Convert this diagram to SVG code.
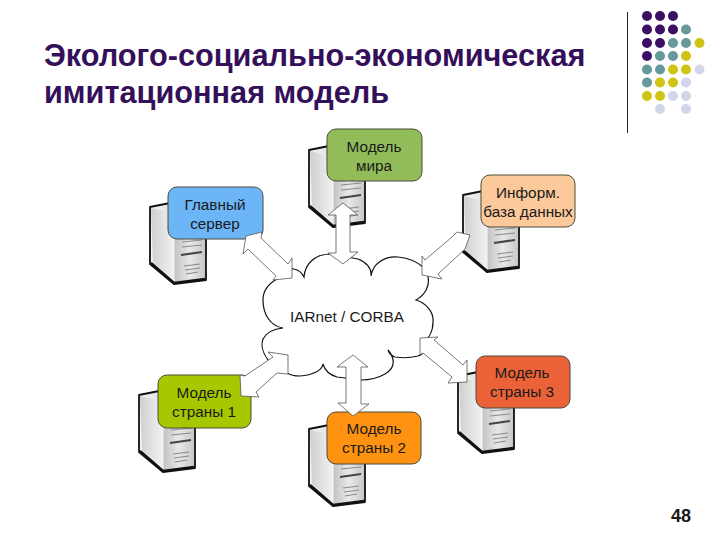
<svg xmlns="http://www.w3.org/2000/svg" width="720" height="540" viewBox="0 0 720 540">
<style>
.t{font-family:"Liberation Sans",Arial,sans-serif;font-weight:700;font-size:30.7px;fill:#35105a}
.l{font-family:"Liberation Sans",Arial,sans-serif;font-size:15.3px;fill:#1a1a1a;text-anchor:middle}
.box{stroke:#4a4a3a;stroke-width:1}
.a{fill:#fff;stroke:#555;stroke-width:.8;stroke-linejoin:miter}
.p{fill:#3b0f63}.q{fill:#66989c}.y{fill:#cfc414}.w{fill:#d3d5e8}
</style>
<defs>
<linearGradient id="g" x1="0" x2="1" y1="0" y2="0"><stop offset="0" stop-color="#f4f4f4"/><stop offset="1" stop-color="#c4c4c4"/></linearGradient>
<linearGradient id="f" x1="0" x2="1" y1="0" y2="0"><stop offset="0" stop-color="#c4c4c4"/><stop offset=".5" stop-color="#e8e8e8"/><stop offset="1" stop-color="#c8c8c8"/></linearGradient>
<linearGradient id="s" x1="0" x2="1" y1="0" y2="0"><stop offset="0" stop-color="#cfcfcf"/><stop offset="1" stop-color="#f2f2f2"/></linearGradient>
<g id="srv">
<path d="M0 1L20 -3L56 -3L56 74L24 78L0 58Z" fill="url(#g)" stroke="#111" stroke-width="1.8" stroke-linejoin="round"/>
<path d="M25 8L55 4L55 73L25 76Z" fill="url(#f)"/>
<path d="M1 2L3 56L24 76L24 8Z" fill="url(#s)"/>
<path d="M1 57L24 77L55 73" fill="none" stroke="#111" stroke-width="2.4"/>
<path d="M31 49L52 46" stroke="#444" stroke-width="2.2"/>
<path d="M32 36L52 34M32 41L52 39M34 60L50 58M35 64L50 62M36 68L48 66" stroke="#8a8a8a" stroke-width="1" fill="none"/>
</g>
</defs>
<rect width="720" height="540" fill="#fff"/>
<g id="title">
<text class="t" x="44" y="66">Эколого-социально-экономическая</text>
<text class="t" x="44" y="103">имитационная модель</text>
</g>
<g id="decor">
<line x1="627.5" y1="12" x2="627.5" y2="133" stroke="#222" stroke-width="1"/>
<g class="p"><circle cx="647" cy="16" r="5"/><circle cx="660" cy="16" r="5"/><circle cx="673" cy="16" r="5"/><circle cx="647" cy="29.5" r="5"/><circle cx="660" cy="29.5" r="5"/><circle cx="673" cy="29.5" r="5"/><circle cx="647" cy="43" r="5"/><circle cx="660" cy="43" r="5"/><circle cx="647" cy="56" r="5"/></g>
<g class="q"><circle cx="686" cy="29.5" r="5"/><circle cx="673" cy="43" r="5"/><circle cx="686" cy="43" r="5"/><circle cx="660" cy="56" r="5"/><circle cx="673" cy="56" r="5"/><circle cx="647" cy="69.5" r="5"/><circle cx="660" cy="69.5" r="5"/><circle cx="647" cy="82.5" r="5"/></g>
<g class="y"><circle cx="699.5" cy="43" r="5"/><circle cx="686" cy="56" r="5"/><circle cx="673" cy="69.5" r="5"/><circle cx="686" cy="69.5" r="5"/><circle cx="660" cy="82.5" r="5"/><circle cx="673" cy="82.5" r="5"/><circle cx="647" cy="96" r="5"/><circle cx="660" cy="96" r="5"/></g>
<g class="w"><circle cx="699.5" cy="69.5" r="5"/><circle cx="686" cy="82.5" r="5"/><circle cx="673" cy="96" r="5"/><circle cx="686" cy="96" r="5"/><circle cx="660" cy="109" r="5"/><circle cx="686" cy="109" r="5"/></g>
</g>
<g id="cloud">
<path d="M277 279C283 271 290 268 294 269C299 270 302 273 304 277C305 263 316 254 330 254L358 259C366 262 372 268 371 276C373 263 385 256 398 257C408 258 418 262 424 268C428 271 429 274 428 277C430 286 425 295 416 300C426 303 434 312 433 322C433 332 428 340 421 344C425 350 424 354 418 356C410 358 401 358 395 357C392 356 389 353 388 350C394 357 397 367 385 374C378 378 370 380 361 380L337 377C330 375 325 371 323 364C322 371 312 375 300 376C295 376 290 375 287 373L268 360C262 352 261 344 263 339C266 333 273 329 283 328C270 326 263 314 263 300C263 291 268 284 277 279Z" fill="#fff" stroke="#111" stroke-width="1.2"/>
<text class="l" x="347" y="322">IARnet / CORBA</text>
</g>
<g id="main-server">
<use href="#srv" x="150" y="206"/>
<rect class="box" x="168" y="187" width="95" height="52" rx="9" fill="#6cb6f8"/>
<text class="l" x="215" y="210">Главный</text><text class="l" x="215" y="229">сервер</text>
</g>
<g id="world-model">
<use href="#srv" x="309" y="149"/>
<rect class="box" x="327" y="129" width="95" height="52" rx="9" fill="#92bc5a"/>
<text class="l" x="374" y="152">Модель</text><text class="l" x="374" y="171">мира</text>
</g>
<g id="info-db">
<use href="#srv" x="463" y="194"/>
<rect class="box" x="481" y="175" width="94" height="52" rx="9" fill="#fbc99a"/>
<text class="l" x="528" y="198">Информ.</text><text class="l" x="528" y="217">база данных</text>
</g>
<g id="country-1">
<use href="#srv" x="139" y="394"/>
<rect class="box" x="158" y="375" width="93" height="53" rx="9" fill="#a5c800"/>
<text class="l" x="204" y="398">Модель</text><text class="l" x="204" y="417">страны 1</text>
</g>
<g id="country-2">
<use href="#srv" x="309" y="428"/>
<rect class="box" x="327" y="412" width="94" height="52" rx="9" fill="#ff9210"/>
<text class="l" x="374" y="434">Модель</text><text class="l" x="374" y="453">страны 2</text>
</g>
<g id="country-3">
<use href="#srv" x="458" y="375"/>
<rect class="box" x="476" y="356" width="94" height="52" rx="9" fill="#eb6239"/>
<text class="l" x="522" y="378">Модель</text><text class="l" x="522" y="397">страны 3</text>
</g>
<g id="connectors">
<path class="a" d="M246 236L262 232L261 238L288 264L292 258L292 278L273 280L276 276L248 249L243 254Z"/>
<path class="a" d="M343 203L358 215L350 215L350 252L358 252L343 264L328 253L336 253L336 215L328 215Z"/>
<path class="a" d="M470 235L465 249L438 274L442 279L422 275L422 256L425 260L452 237L457 232Z"/>
<path class="a" d="M288 355L288 374L277 373L256 392L259 397L241 396L240 375L245 376L273 357L268 352Z"/>
<path class="a" d="M353 355L368 367L361 367L361 404L369 404L353 416L338 403L346 403L346 367L337 367Z"/>
<path class="a" d="M420 338L438 337L434 340L463 365L467 360L467 382L448 383L452 377L423 353L420 355Z"/>
</g>
<g id="page"><text x="681" y="522" font-family="Liberation Sans,Arial,sans-serif" font-weight="700" font-size="18" fill="#1a1a1a" text-anchor="middle">48</text></g>
</svg>
